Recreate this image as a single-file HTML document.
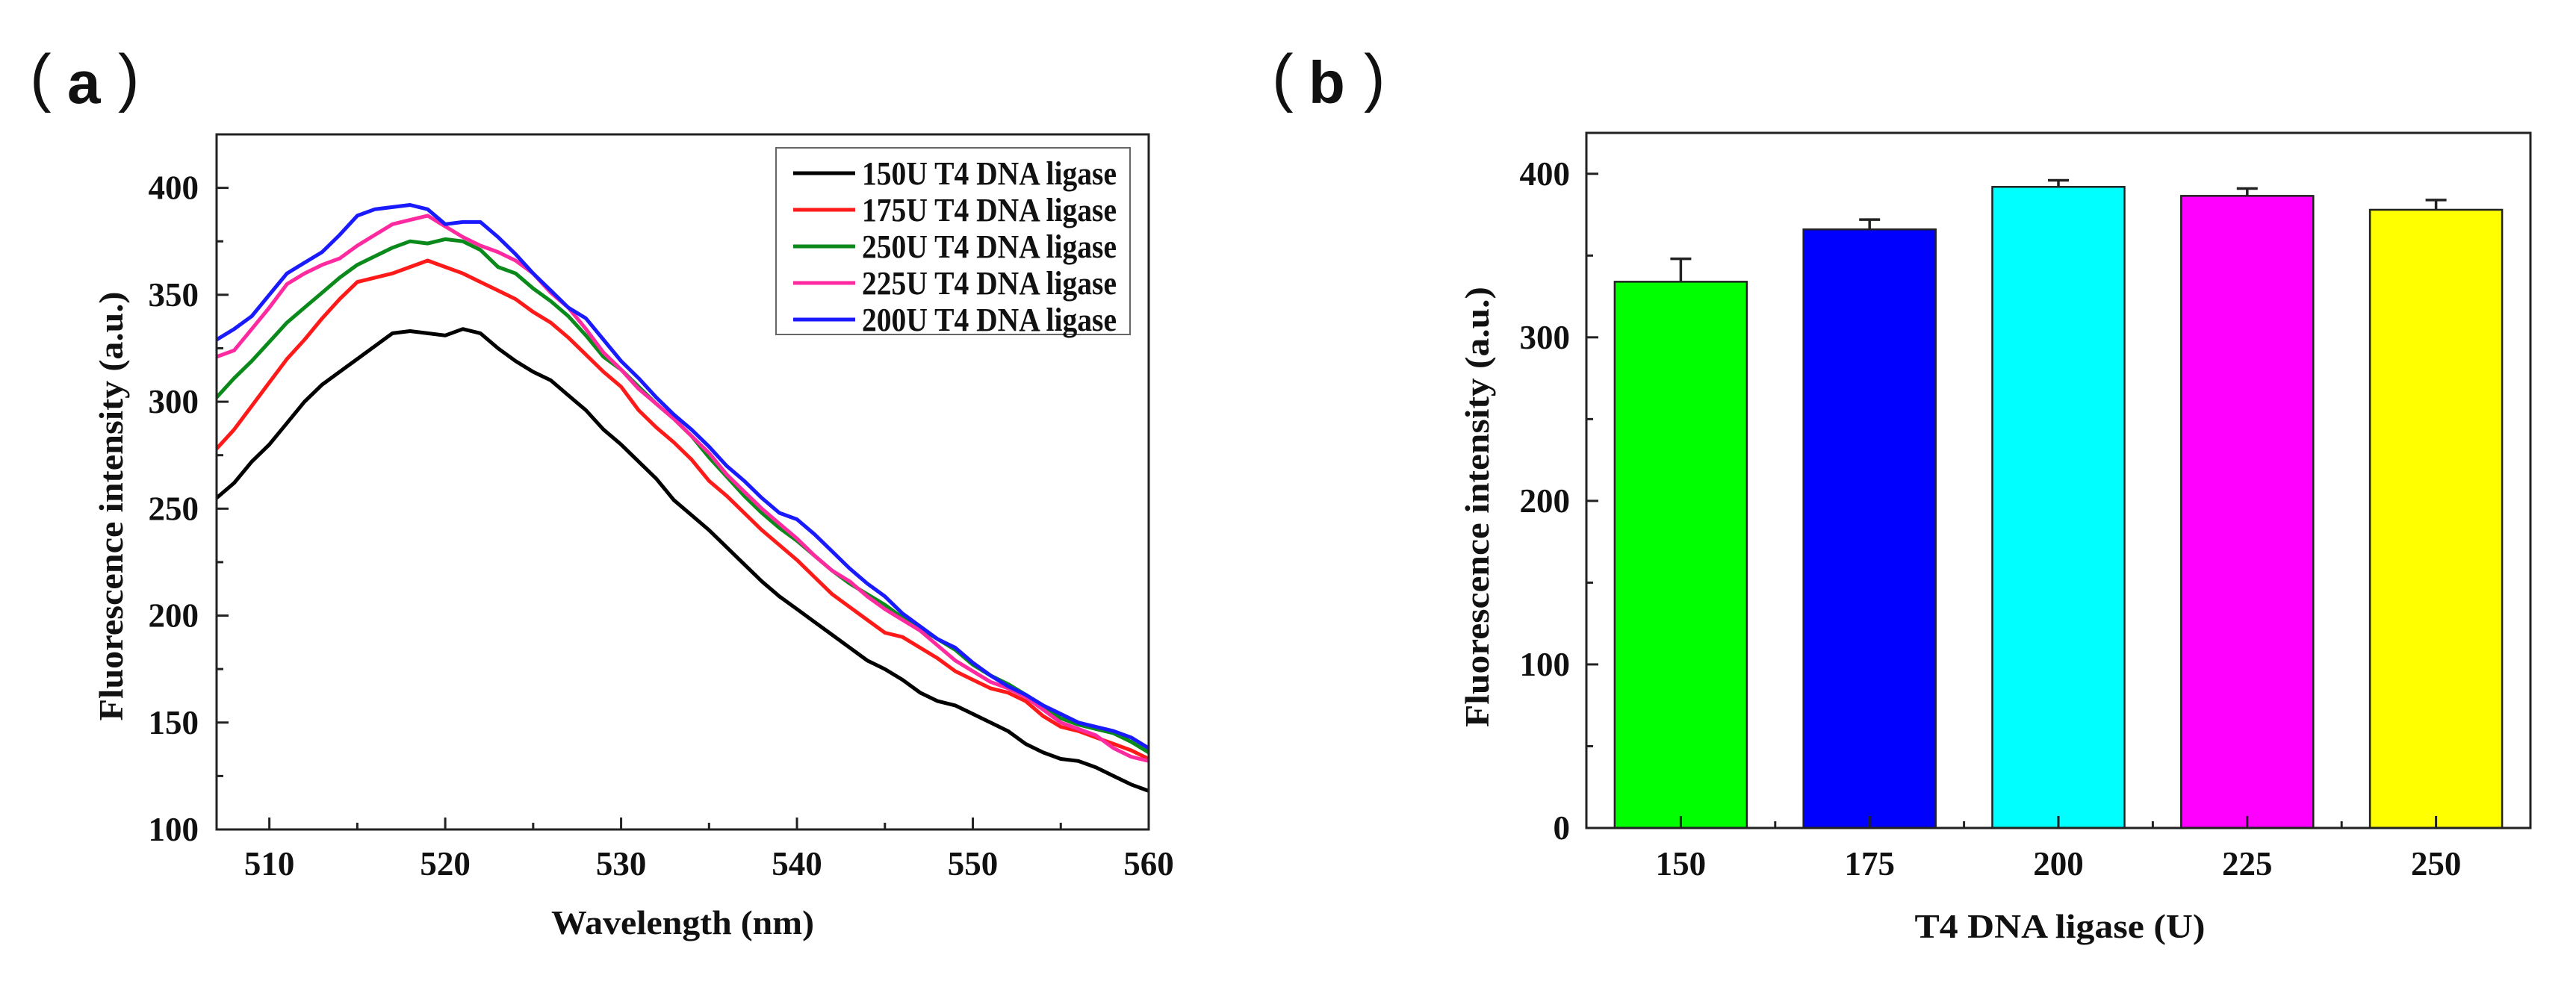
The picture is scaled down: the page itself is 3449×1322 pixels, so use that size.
<!DOCTYPE html>
<html><head><meta charset="utf-8"><style>
html,body{margin:0;padding:0;background:#fff;}
svg{display:block;}
text{font-family:"Liberation Serif",serif;font-weight:bold;fill:#111;}
.lbl{font-family:"Liberation Sans","Noto Sans CJK SC",sans-serif;}
.thin{font-weight:normal;}
</style></head><body>
<svg id="fig" width="3449" height="1322" viewBox="0 0 3449 1322" xmlns="http://www.w3.org/2000/svg">
<text class="lbl thin" x="40" y="133" font-size="86" style="font-weight:normal">(</text>
<text class="lbl" x="90" y="138" font-size="80">a</text>
<text class="lbl thin" x="158" y="133" font-size="86" style="font-weight:normal">)</text>
<text class="lbl thin" x="1703" y="133" font-size="86" style="font-weight:normal">(</text>
<text class="lbl" x="1752" y="138" font-size="80">b</text>
<text class="lbl thin" x="1826" y="133" font-size="86" style="font-weight:normal">)</text>
<g id="ga"></g>
<g id="gb"></g>
</svg>
<script>
const wavelengths = [507,508,509,510,511,512,513,514,515,516,517,518,519,520,521,522,523,524,525,526,527,528,529,530,531,532,533,534,535,536,537,538,539,540,541,542,543,544,545,546,547,548,549,550,551,552,553,554,555,556,557,558,559,560];
const s150 = [255,262,272,280,290,300,308,314,320,326,332,333,332,331,334,332,325,319,314,310,303,296,287,280,272,264,254,247,240,232,224,216,209,203,197,191,185,179,175,170,164,160,158,154,150,146,140,136,133,132,129,125,121,118];
const s175 = [278,287,298,309,320,329,339,348,356,358,360,363,366,363,360,356,352,348,342,337,330,322,314,307,296,288,281,273,263,256,248,240,233,226,218,210,204,198,192,190,185,180,174,170,166,164,160,153,148,146,143,140,137,133];
const s250 = [302,311,319,328,337,344,351,358,364,368,372,375,374,376,375,371,363,360,353,347,340,331,321,315,307,299,292,284,274,265,256,248,241,235,228,221,215,210,205,199,194,189,184,177,172,168,163,158,152,149,147,145,141,136];
const s225 = [321,324,334,344,355,360,364,367,373,378,383,385,387,382,377,373,370,366,360,351,344,334,323,315,306,299,292,284,276,266,258,250,243,236,228,221,216,209,203,198,193,186,179,174,169,166,162,156,150,147,144,138,134,132];
const s200 = [329,334,340,350,360,365,370,378,387,390,391,392,390,383,384,384,377,369,360,352,344,339,329,319,311,302,294,287,279,270,263,255,248,245,238,230,222,215,209,201,195,189,185,178,172,167,163,158,154,150,148,146,143,138];
const seriesNames = ["150U T4 DNA ligase","175U T4 DNA ligase","250U T4 DNA ligase","225U T4 DNA ligase","200U T4 DNA ligase"];
const aXTicks = [510,520,530,540,550,560];
const aYTicks = [100,150,200,250,300,350,400];

const barCats = ["150","175","200","225","250"];
const barVals = [334,366,392,386.5,378];
const barErr = [14,6,4,4.5,6];
const bYTicks = [0,100,200,300,400];

const NS="http://www.w3.org/2000/svg";
function mk(parent,tag,attrs,txt){const e=document.createElementNS(NS,tag);for(const k in attrs)e.setAttribute(k,attrs[k]);if(txt!==undefined)e.textContent=txt;parent.appendChild(e);return e;}

// Panel A
const ga=document.getElementById('ga');
const A={l:290,r:1538,t:180,b:1111,x0:507,x1:560,y0:100,y1:425};
const ax=v=>A.l+(v-A.x0)/(A.x1-A.x0)*(A.r-A.l);
const ay=v=>A.b-(v-A.y0)/(A.y1-A.y0)*(A.b-A.t);
const colors=["#000000","#ff1a1a","#0a8a1a","#ff2aa0","#1a1aff"];
const allS=[s150,s175,s250,s225,s200];
const sNames=['series-150u','series-175u','series-250u','series-225u','series-200u'];
allS.forEach((s,i)=>{
  const d=s.map((v,j)=>(j?'L':'M')+ax(wavelengths[j]).toFixed(1)+','+ay(v).toFixed(1)).join('');
  const p=mk(ga,'path',{d:d,fill:'none',stroke:colors[i],'stroke-width':5,'stroke-linejoin':'round'});
  
  
});
let fr=mk(ga,'rect',{x:A.l,y:A.t,width:A.r-A.l,height:A.b-A.t,fill:'none',stroke:'#222','stroke-width':3});


for(let v=510;v<=560;v+=5){const X=ax(v);const len=(v%10===0)?16:9;mk(ga,'line',{x1:X,x2:X,y1:A.b,y2:A.b-len,stroke:'#222','stroke-width':3});}
for(let v=100;v<=425;v+=25){const Y=ay(v);const len=(v%50===0)?16:9;mk(ga,'line',{x1:A.l,x2:A.l+len,y1:Y,y2:Y,stroke:'#222','stroke-width':3});}
aXTicks.forEach(v=>{const t=mk(ga,'text',{x:ax(v),y:1172,'font-size':45,'text-anchor':'middle'},String(v));
  
  });
aYTicks.forEach(v=>{const t=mk(ga,'text',{x:266,y:ay(v)+15,'font-size':45,'text-anchor':'end'},String(v));
  
  });
let t=mk(ga,'text',{x:914,y:1251,'font-size':45,'text-anchor':'middle',textLength:352,lengthAdjust:'spacingAndGlyphs'},'Wavelength (nm)');


t=mk(ga,'text',{x:0,y:0,'font-size':45,'text-anchor':'middle',textLength:575,lengthAdjust:'spacingAndGlyphs',transform:'translate(164,678) rotate(-90)'},'Fluorescence intensity (a.u.)');


// legend
const lg=mk(ga,'g',{});


mk(lg,'rect',{x:1039,y:198,width:474,height:250,fill:'#fff',stroke:'#666','stroke-width':2});
seriesNames.forEach((n,i)=>{
  const cy=232+i*49;
  const e=mk(lg,'g',{});
  
  
  mk(e,'line',{x1:1062,x2:1145,y1:cy,y2:cy,stroke:colors[i],'stroke-width':5});
  mk(e,'text',{x:1154,y:cy+15,'font-size':44,textLength:341,lengthAdjust:'spacingAndGlyphs'},n);
});

// Panel B
const gb=document.getElementById('gb');
const B={l:2124,r:3388,t:178,b:1109,y0:0,y1:425};
const bw=(B.r-B.l)/5;
const bx=i=>B.l+bw*(i+0.5);
const by=v=>B.b-(v-B.y0)/(B.y1-B.y0)*(B.b-B.t);
const bcol=["#00ff00","#0000ff","#00ffff","#ff00ff","#ffff00"];
barVals.forEach((v,i)=>{
  const X=bx(i),W=177;
  const r=mk(gb,'rect',{x:X-W/2,y:by(v),width:W,height:B.b-by(v),fill:bcol[i],stroke:'#222','stroke-width':2.5});
  
  
  const e=mk(gb,'g',{stroke:'#222','stroke-width':3.5});
  
  
  mk(e,'line',{x1:X,x2:X,y1:by(v),y2:by(v+barErr[i])});
  mk(e,'line',{x1:X-14,x2:X+14,y1:by(v+barErr[i]),y2:by(v+barErr[i])});
});
fr=mk(gb,'rect',{x:B.l,y:B.t,width:B.r-B.l,height:B.b-B.t,fill:'none',stroke:'#222','stroke-width':3});


for(let i=0;i<5;i++){mk(gb,'line',{x1:bx(i),x2:bx(i),y1:B.b,y2:B.b-16,stroke:'#222','stroke-width':3});}
for(let i=1;i<5;i++){const X=B.l+bw*i;mk(gb,'line',{x1:X,x2:X,y1:B.b,y2:B.b-9,stroke:'#222','stroke-width':3});}
for(let v=0;v<=425;v+=50){const Y=by(v);const len=(v%100===0)?16:9;mk(gb,'line',{x1:B.l,x2:B.l+len,y1:Y,y2:Y,stroke:'#222','stroke-width':3});}
barCats.forEach((c,i)=>{const tt=mk(gb,'text',{x:bx(i),y:1172,'font-size':45,'text-anchor':'middle'},c);
  
  });
bYTicks.forEach(v=>{const tt=mk(gb,'text',{x:2102,y:by(v)+15,'font-size':45,'text-anchor':'end'},String(v));
  
  });
t=mk(gb,'text',{x:2758,y:1256,'font-size':45,'text-anchor':'middle',textLength:389,lengthAdjust:'spacingAndGlyphs'},'T4 DNA ligase (U)');


t=mk(gb,'text',{x:0,y:0,'font-size':45,'text-anchor':'middle',textLength:590,lengthAdjust:'spacingAndGlyphs',transform:'translate(1993,679) rotate(-90)'},'Fluorescence intensity (a.u.)');


</script>
</body></html>
